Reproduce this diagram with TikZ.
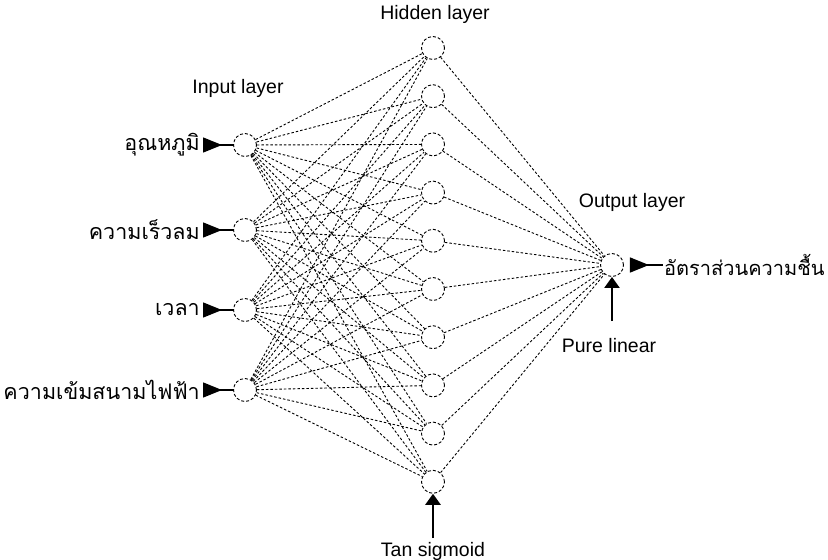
\documentclass[tikz,border=0pt]{standalone}
\usepackage{fontspec}
\setmainfont{Liberation Sans}
\newfontfamily\thai[Script=Thai]{Loma}
\usetikzlibrary{arrows.meta}
\begin{document}
\begin{tikzpicture}[x=1pt,y=-1pt,
  neuron/.style={circle,draw,line width=0.9pt,dash pattern=on 3pt off 2pt,minimum size=23pt,inner sep=0pt,fill=white},
  link/.style={line width=0.9pt,dash pattern=on 2.5pt off 2pt},
  lbl/.style={font=\fontsize{19.5}{22}\selectfont,inner sep=0pt},
  thl/.style={font=\thai\fontsize{21.5}{24}\selectfont,inner sep=0pt},
  tho/.style={font=\thai\fontsize{20}{24}\selectfont,inner sep=0pt},
  inarrow/.style={line width=1.4pt,{Triangle[reversed,length=19pt,width=15pt]}-},
  uparrow/.style={line width=2.2pt,-{Triangle[length=11pt,width=15pt]}}
]
\useasboundingbox (0,0) rectangle (828,560);

% input nodes
\foreach \i/\y in {1/145,2/230,3/310,4/390}{
  \node[neuron] (in\i) at (245,\y) {};
}
% hidden nodes
\foreach \i in {1,...,10}{
  \node[neuron] (h\i) at (433,{48+48.2*(\i-1)}) {};
}
% output node
\node[neuron] (out) at (612,265) {};

% connections
\foreach \i in {1,...,4}{
  \foreach \j in {1,...,10}{
    \draw[link] (in\i) -- (h\j);
  }
}
\foreach \j in {1,...,10}{
  \draw[link] (h\j) -- (out);
}

% input labels and arrows
\coordinate (a1) at (203,145);
\coordinate (a2) at (203,230);
\coordinate (a3) at (203,310);
\coordinate (a4) at (203,390);
\foreach \i in {1,...,4}{
  \draw[inarrow] (a\i) -- (in\i);
}
\node[thl,anchor=east] (t1) at (200,145) {อุณหภูมิ};
\node[thl,anchor=east] (t2) at (200,230) {ความเร็วลม};
\node[thl,anchor=east] (t3) at (200,310) {เวลา};
\node[thl,anchor=east] (t4) at (200,390) {ความเข้มสนามไฟฟ้า};

% output arrow and label
\coordinate (oc) at (663,265);
\draw[inarrow,shorten <=6pt] (out) -- (oc);
\node[tho,anchor=west] (ot) at (664,265) {อัตราส่วนความชื้น};

% layer labels
\node[lbl,anchor=base] (hl) at (435,19) {Hidden layer};
\node[lbl,anchor=base] (il) at (238,93) {Input layer};
\node[lbl,anchor=base] (ol) at (632,207) {Output layer};

% transfer functions
\coordinate (pb) at (612,321);
\draw[uparrow] (pb) -- (out);
\node[lbl,anchor=base] (pl) at (609,352) {Pure linear};
\coordinate (tb) at (433,538);
\draw[uparrow] (tb) -- (h10);
\node[lbl,anchor=base] (ts) at (433,556) {Tan sigmoid};
\end{tikzpicture}
\end{document}
